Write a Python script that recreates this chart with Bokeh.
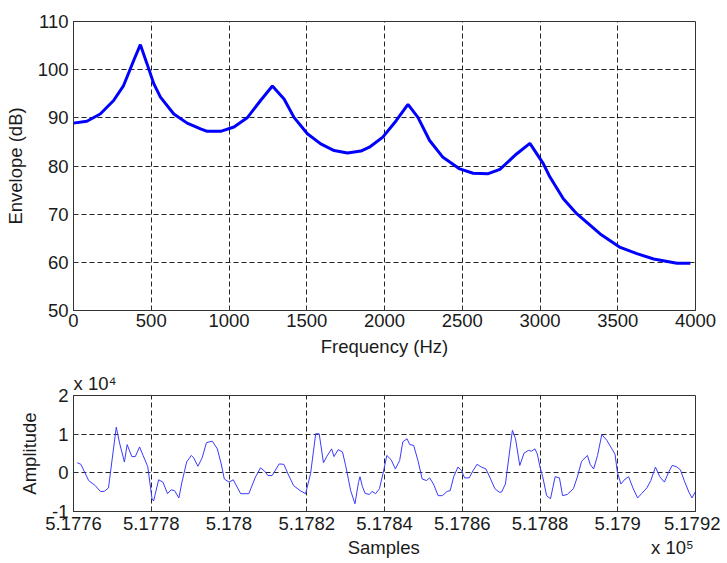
from bokeh.plotting import figure
from bokeh.models import Range1d, FixedTicker, Title
from bokeh.layouts import column
from bokeh.embed import file_html
from bokeh.resources import INLINE

# ---------------- data ----------------
FREQ_HZ = [0, 86, 172, 258, 322, 387, 430, 473, 516, 559, 645, 731, 817, 860, 946,
           1032, 1117, 1203, 1279, 1354, 1418, 1504, 1590, 1676, 1762, 1848, 1903,
           1989, 2075, 2151, 2215, 2290, 2376, 2484, 2570, 2667, 2742, 2849, 2935,
           3021, 3064, 3150, 3236, 3387, 3516, 3623, 3731, 3881, 3967]
ENVELOPE_DB = [88.9, 89.3, 90.8, 93.6, 96.7, 101.9, 105.2, 101.2, 97.1, 94.3, 90.8,
               88.9, 87.7, 87.2, 87.2, 88.1, 90.0, 93.6, 96.6, 93.9, 90.1, 86.7, 84.6,
               83.2, 82.7, 83.1, 83.9, 86.0, 89.4, 92.8, 90.1, 85.3, 81.8, 79.4, 78.5,
               78.4, 79.3, 82.5, 84.7, 80.5, 77.7, 73.2, 70.1, 65.9, 63.1, 61.8, 60.7,
               59.8, 59.8]

SAMPLE_START = 517760
SAMPLE_OFFSET = [1.0, 1.9, 3.9, 5.6, 6.9, 7.9, 9.0, 11.0, 11.9, 13.1, 13.8, 15.0, 15.9,
                 17.0, 17.9, 19.1, 20.2, 20.6, 21.9, 23.0, 24.2, 25.1, 26.0, 27.1, 27.9,
                 29.1, 30.3, 30.9, 32.0, 33.1, 34.2, 35.7, 37.0, 38.0, 38.8, 40.0, 41.1,
                 43.0, 45.1, 46.8, 48.1, 49.2, 50.0, 51.1, 52.9, 54.1, 55.2, 56.6, 58.3,
                 59.7, 61.0, 62.3, 63.2, 64.3, 65.2, 66.4, 67.0, 68.1, 69.2, 70.0, 71.3,
                 72.4, 73.3, 73.7, 74.3, 75.0, 76.1, 76.8, 77.7, 78.7, 79.7, 80.6, 81.7,
                 82.8, 83.9, 84.7, 85.8, 86.5, 87.5, 88.6, 89.7, 90.8, 91.6, 92.6, 93.8,
                 94.9, 96.1, 96.9, 97.8, 98.9, 99.8, 100.6, 101.8, 102.8, 103.8, 104.9,
                 106.1, 107.3, 108.4, 109.5, 110.1, 111.1, 112.0, 112.9, 113.7, 114.8,
                 115.9, 117.0, 117.8, 118.7, 119.3, 120.0, 120.7, 121.7, 122.7, 123.9,
                 125.0, 125.8, 127.0, 128.6, 129.6, 130.7, 132.2, 132.9, 133.8, 134.8,
                 135.9, 137.2, 138.5, 139.3, 139.9, 140.8, 141.9, 142.8, 143.9, 145.1,
                 146.2, 147.5, 148.5, 149.7, 150.8, 152.0, 153.1, 154.0, 155.1, 156.1,
                 157.1, 158.3, 159.1, 160.0]
AMPLITUDE = [2600, 2200, -2000, -3300, -4800, -4800, -3900, 11800, 7500, 2800, 7300,
             4200, 4200, 6700, 4500, 1600, -6700, -7300, -1800, -2400, -5400, -4400,
             -4600, -6500, -2400, 2800, 4500, 3900, 1700, 3900, 7800, 8200, 6200, 2300,
             -1600, -2400, -1800, -5400, -5400, -1100, 1300, 400, -700, -700, 2300, 2200,
             -300, -3300, -4600, -5400, -100, 10100, 10100, 2600, 4300, 6200, 4200, 6000,
             5400, 1900, -4600, -8000, -2500, -1000, -3500, -5300, -5600, -4800, -5400,
             -4100, 200, 4500, 3400, 1000, 3200, 8000, 8800, 7300, 7100, 3200, -1600,
             -2000, -1300, -2900, -5900, -5900, -4800, -4600, -1000, 1500, 600, -1300,
             -1300, 600, 2200, 1500, 1000, -1600, -4100, -5000, -5000, -2900, 4100, 11000,
             8800, 1900, 5100, 5800, 5600, 6200, 4900, 1500, -1000, -5900, -6700, -1000,
             -1300, -5900, -5600, -4100, -1100, 3000, 4500, 2200, 1000, 4500, 9900, 8400,
             6200, 4800, 200, -2900, -1600, -1000, -3900, -6500, -5300, -3900, -2000,
             1500, -1000, -2400, 200, 1900, 1600, 800, -2000, -5000, -6500, -4800]

FREQ_TICKS = [0, 500, 1000, 1500, 2000, 2500, 3000, 3500, 4000]
DB_TICKS = [50, 60, 70, 80, 90, 100, 110]
SAMPLE_TICKS = [517760, 517780, 517800, 517820, 517840, 517860, 517880, 517900, 517920]
SAMPLE_TICK_LABELS = ["5.1776", "5.1778", "5.178", "5.1782", "5.1784", "5.1786",
                      "5.1788", "5.179", "5.1792"]
AMP_TICKS = [-10000, 0, 10000, 20000]
AMP_TICK_LABELS = ["-1", "0", "1", "2"]
AMP_EXPONENT = "x 10\u2074"
SAMPLE_EXPONENT = "x 10\u2075"

FONT = "Liberation Sans"
FS = "18.5px"
TXT = "#1a1a1a"
NBSP = "\u00a0"


def style(p, y_label_standoff, x_major_standoff, x_label_standoff):
    p.outline_line_color = "#333333"
    p.outline_line_width = 1
    p.outline_line_alpha = 1.0
    p.background_fill_color = "white"
    p.border_fill_color = "white"
    p.grid.grid_line_color = "#222222"
    p.grid.grid_line_dash = "5 3"
    p.grid.grid_line_width = 1
    p.grid.grid_line_alpha = 1.0
    for ax in (p.xaxis[0], p.yaxis[0]):
        ax.axis_line_color = "#333333"
        ax.major_tick_in = 4
        ax.major_tick_out = 0
        ax.major_tick_line_color = "#333333"
        ax.minor_tick_line_color = None
        ax.major_label_text_font = FONT
        ax.major_label_text_font_size = FS
        ax.major_label_text_color = TXT
        ax.axis_label_text_font = FONT
        ax.axis_label_text_font_size = FS
        ax.axis_label_text_font_style = "normal"
        ax.axis_label_text_color = TXT
    p.yaxis[0].major_label_standoff = 5
    p.yaxis[0].axis_label_standoff = y_label_standoff
    p.xaxis[0].major_label_standoff = x_major_standoff
    p.xaxis[0].axis_label_standoff = x_label_standoff


# ---------------- top: envelope ----------------
top = figure(width=720, height=361, output_backend="svg", toolbar_location=None,
             x_range=Range1d(0, 4000), y_range=Range1d(50, 110),
             min_border_left=73, min_border_right=25, min_border_top=21,
             min_border_bottom=51)
top.line(FREQ_HZ, ENVELOPE_DB, line_color="#0000ff", line_width=3)
top.xaxis.ticker = FixedTicker(ticks=FREQ_TICKS)
top.yaxis.ticker = FixedTicker(ticks=DB_TICKS)
top.xaxis.axis_label = "Frequency (Hz)"
top.yaxis.axis_label = "Envelope (dB)"
style(top, 9, 3, 6)

# ---------------- bottom: waveform ----------------
samples = [SAMPLE_START + o for o in SAMPLE_OFFSET]
bot = figure(width=720, height=201, output_backend="svg", toolbar_location=None,
             x_range=Range1d(SAMPLE_TICKS[0], SAMPLE_TICKS[-1]),
             y_range=Range1d(AMP_TICKS[0], AMP_TICKS[-1]),
             min_border_left=73, min_border_right=25, min_border_top=34,
             min_border_bottom=51)
bot.line(samples, AMPLITUDE, line_color="#3a3aff", line_width=1)
bot.xaxis.ticker = FixedTicker(ticks=SAMPLE_TICKS)
bot.yaxis.ticker = FixedTicker(ticks=AMP_TICKS)
bot.xaxis.major_label_overrides = dict(zip(SAMPLE_TICKS, SAMPLE_TICK_LABELS))
bot.yaxis.major_label_overrides = dict(zip(AMP_TICKS, AMP_TICK_LABELS))
# axis name centred under the frame, exponent pushed to the right end (MATLAB style)
bot.xaxis.axis_label = NBSP * 53 + "Samples" + NBSP * 45 + SAMPLE_EXPONENT
bot.yaxis.axis_label = "Amplitude"
style(bot, 9, 5, 4)

bot.add_layout(Title(text=AMP_EXPONENT, align="left", text_font=FONT,
                     text_font_size=FS, text_font_style="normal",
                     text_color=TXT, standoff=4), "above")

layout = column(top, bot, spacing=0)
open("out.html", "w").write(file_html(layout, INLINE))
